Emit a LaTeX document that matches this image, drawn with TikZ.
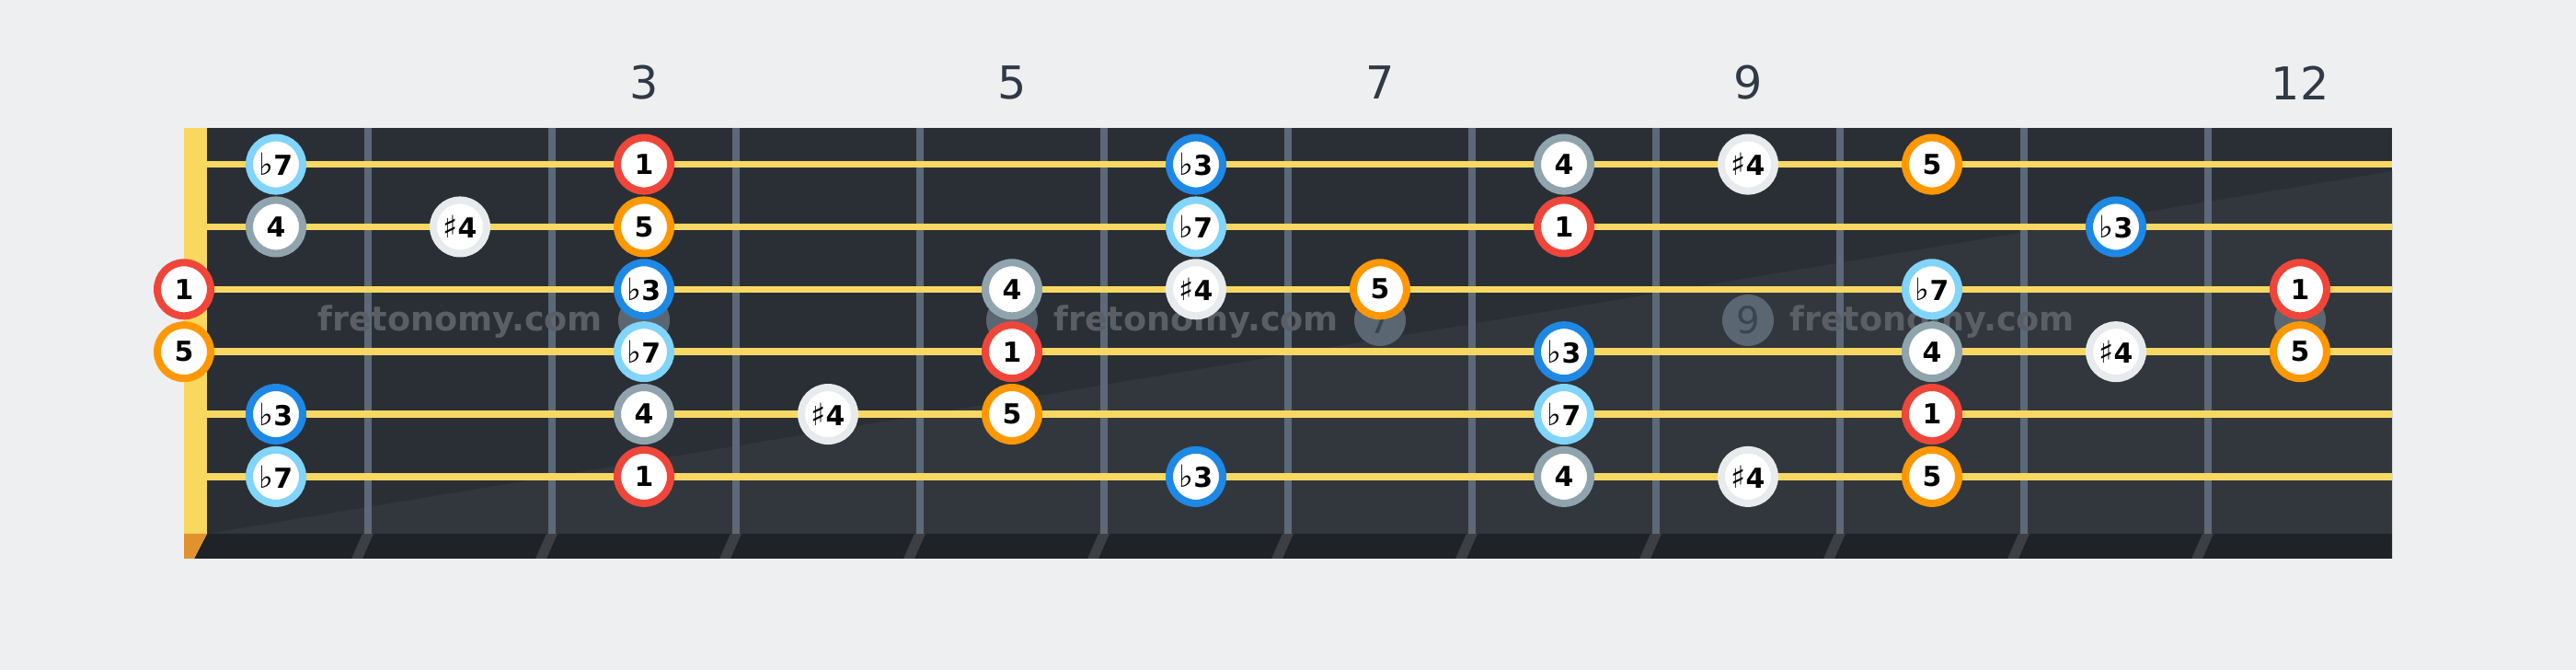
\documentclass[tikz,border=0pt]{standalone}
\usepackage{fontspec}
\setmainfont{DejaVu Sans}
\usepackage{xcolor}
\definecolor{bgcol}{HTML}{EEEFF1}
\definecolor{boardcol}{HTML}{2A2F36}
\definecolor{boardhi}{HTML}{32373D}
\definecolor{edgecol}{HTML}{1F2226}
\definecolor{nutcol}{HTML}{F8D85E}
\definecolor{nutend}{HTML}{E0922F}
\definecolor{strcol}{HTML}{F8D862}
\definecolor{fretcol}{HTML}{5B6A76}
\definecolor{fretshd}{HTML}{3C4044}
\definecolor{inlaycol}{HTML}{5A6772}
\definecolor{inlaytxt}{HTML}{3A4550}
\definecolor{wmcol}{HTML}{5A5F66}
\definecolor{numcol}{HTML}{2E3A45}
\definecolor{rootcol}{HTML}{F0463A}
\definecolor{fifthcol}{HTML}{FF9800}
\definecolor{thirdcol}{HTML}{1E88E5}
\definecolor{sevcol}{HTML}{81D4FA}
\definecolor{fourcol}{HTML}{90A4AE}
\definecolor{shfourcol}{HTML}{E8EBEE}
\usetikzlibrary{positioning}
\newcommand\flatsym{{\mdseries\fontsize{9.5}{9.5}\selectfont ♭}}
\newcommand\sharpsym{{\mdseries\fontsize{9.5}{9.5}\selectfont ♯}}

\begin{document}
\begin{tikzpicture}[x=1cm,y=1cm,
  note/.style={circle,draw=#1,line width=0.08cm,fill=white,text=black,inner sep=0pt,minimum size=0.58cm,font=\bfseries\fontsize{8.5}{8.5}\selectfont},
  inlay/.style={circle,fill=inlaycol,inner sep=0pt,minimum size=0.56cm,text=inlaytxt,font=\fontsize{11.5}{11.5}\selectfont},
  wmark/.style={text=wmcol,font=\bfseries\fontsize{10.4}{10.4}\selectfont},
  fretnum/.style={text=numcol,font=\fontsize{14}{14}\selectfont},
  fretline/.style={fretcol,line width=0.08cm},
  gstring/.style={strcol,line width=0.075cm}]
\useasboundingbox[fill=bgcol] (0,0) rectangle (28,7.28);
\fill[boardcol] (2.25,1.48) rectangle (26,5.89);
\fill[boardhi] (2.25,1.48) -- (26,1.48) -- (26,5.42) -- cycle;
\fill[edgecol] (2.25,1.48) -- (26,1.48) -- (26,1.21) -- (2.11,1.21) -- cycle;
\fill[nutcol] (2,1.48) rectangle (2.25,5.89);
\fill[nutend] (2,1.48) -- (2.25,1.48) -- (2.11,1.21) -- (2,1.21) -- cycle;
\foreach \k in {1,...,11} {
   \fill[fretshd] ({2*\k+1.94},1.48) -- ({2*\k+2.06},1.48) -- ({2*\k+1.94},1.21) -- ({2*\k+1.82},1.21) -- cycle;
   \draw[fretline] ({2*\k+2},5.89) -- ({2*\k+2},1.48);
}
\foreach \f/\t in {3/,5/,7/7,9/9,12/} {
   \node[inlay] (in\f) at ({2*\f+1},3.80) {\t};
}
\foreach \x [count=\i] in {5,13,21} {
   \node[wmark] (wm\i) at (\x,3.78) {fretonomy.com};
}
\foreach \f in {3,5,7,9,12} {
   \node[fretnum] (fn\f) at ({2*\f+1},6.38) {\f};
}
\foreach \s in {1,...,6} {
   \draw[gstring] (2.25,{5.494-0.6786*(\s-1)}) -- (26,{5.494-0.6786*(\s-1)});
}
\foreach \s/\f/\c/\t in %
{1/1/sevcol/\flatsym7,1/3/rootcol/1,1/6/thirdcol/\flatsym3,1/8/fourcol/4,1/9/shfourcol/\sharpsym4,1/10/fifthcol/5,
 2/1/fourcol/4,2/2/shfourcol/\sharpsym4,2/3/fifthcol/5,2/6/sevcol/\flatsym7,2/8/rootcol/1,2/11/thirdcol/\flatsym3,
 3/0/rootcol/1,3/3/thirdcol/\flatsym3,3/5/fourcol/4,3/6/shfourcol/\sharpsym4,3/7/fifthcol/5,3/10/sevcol/\flatsym7,3/12/rootcol/1,
 4/0/fifthcol/5,4/3/sevcol/\flatsym7,4/5/rootcol/1,4/8/thirdcol/\flatsym3,4/10/fourcol/4,4/11/shfourcol/\sharpsym4,4/12/fifthcol/5,
 5/1/thirdcol/\flatsym3,5/3/fourcol/4,5/4/shfourcol/\sharpsym4,5/5/fifthcol/5,5/8/sevcol/\flatsym7,5/10/rootcol/1,
 6/1/sevcol/\flatsym7,6/3/rootcol/1,6/6/thirdcol/\flatsym3,6/8/fourcol/4,6/9/shfourcol/\sharpsym4,6/10/fifthcol/5} {
   \node[note=\c] (n\s-\f) at ({\f==0 ? 2 : 2*\f+1},{5.494-0.6786*(\s-1)}) {\t};
}
\end{tikzpicture}
\end{document}
